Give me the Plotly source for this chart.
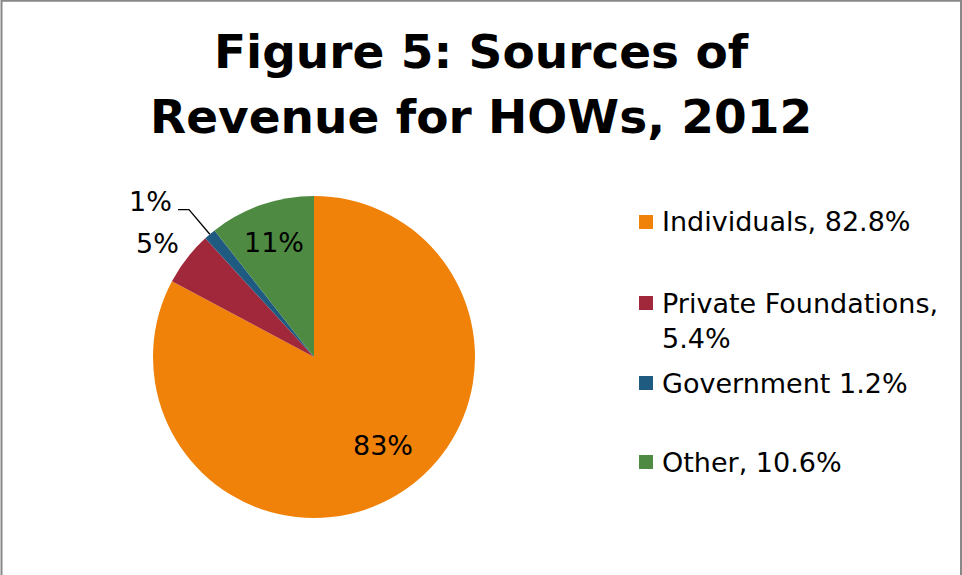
import math
import plotly.graph_objects as go

# Revenue sources for HOWs, 2012 (share of total, %)
categories = ["Individuals", "Private Foundations", "Government", "Other"]
shares = [82.8, 5.4, 1.2, 10.6]
legend_labels = ["Individuals, 82.8%", "Private Foundations,<br>5.4%",
                 "Government 1.2%", "Other, 10.6%"]
colors = ["#F0820A", "#A0283A", "#1F5A80", "#4E8A42"]

title_lines = ["Figure 5: Sources of", "Revenue for HOWs, 2012"]

W, H = 962, 575
FONT = "DejaVu Sans"
TXT = 27

# pie geometry in pixels
cx, cy, r = 314, 357, 161

def px(x):
    return x / W

def py(y):
    return 1 - y / H

fig = go.Figure(go.Pie(
    labels=categories,
    values=shares,
    marker=dict(colors=colors, line=dict(width=0)),
    sort=False,
    direction="clockwise",
    rotation=0,
    textinfo="none",
    hoverinfo="label+percent",
    showlegend=False,
    domain=dict(x=[px(cx - r), px(cx + r)], y=[py(cy + r), py(cy - r)]),
))

annotations = []
shapes = []

# title
for line, yc in zip(title_lines, [51, 116.5]):
    annotations.append(dict(
        text=f"<b>{line}</b>", x=0.5, y=py(yc), xref="paper", yref="paper",
        xanchor="center", yanchor="middle", showarrow=False,
        font=dict(family=FONT, size=47, color="black"),
    ))

# data labels placed along each slice's mid-angle
total = sum(shares)
label_radius = [0.70, 1.2, 1.2, 0.755]
label_nudge = [-7, -2, 0, 0]
cum = 0.0
for k, v in enumerate(shares):
    mid = (cum + v / 2) / total * 360.0
    cum += v
    text = f"{round(v)}%"
    if k == 2:
        # small slice: label outside with a leader line
        a = math.radians(mid)
        ex, ey = cx + r * math.sin(a), cy - r * math.cos(a)
        bx, by = cx + 1.2 * r * math.sin(a), cy - 1.2 * r * math.cos(a)
        hx = bx - 11
        shapes.append(dict(
            type="path", xref="paper", yref="paper",
            path=f"M {px(ex)} {py(ey)} L {px(bx)} {py(by)} L {px(hx)} {py(by)}",
            line=dict(color="black", width=1.3),
        ))
        annotations.append(dict(
            text=text, x=px(hx - 4), y=py(by - 8.5), xref="paper", yref="paper",
            xanchor="right", yanchor="middle", showarrow=False,
            font=dict(family=FONT, size=TXT, color="black"),
        ))
        continue
    a = math.radians(mid + label_nudge[k])
    lx = cx + label_radius[k] * r * math.sin(a)
    ly = cy - label_radius[k] * r * math.cos(a)
    annotations.append(dict(
        text=text, x=px(lx), y=py(ly), xref="paper", yref="paper",
        xanchor="center", yanchor="middle", showarrow=False,
        font=dict(family=FONT, size=TXT, color="black"),
    ))

# legend
row_y = [222, 303, 383, 462]
line_h = 1.3 * TXT
sq = 14
for lab, col, yr in zip(legend_labels, colors, row_y):
    shapes.append(dict(
        type="rect", xref="paper", yref="paper",
        x0=px(639), x1=px(639 + sq), y0=py(yr - sq / 2), y1=py(yr + sq / 2),
        fillcolor=col, line=dict(width=0),
    ))
    nlines = lab.count("<br>") + 1
    annotations.append(dict(
        text=lab, x=px(660), y=py(yr + (nlines - 1) * line_h / 2),
        xref="paper", yref="paper", xanchor="left", yanchor="middle",
        align="left", showarrow=False,
        font=dict(family=FONT, size=TXT, color="black"),
    ))

# chart frame
shapes.append(dict(
    type="rect", xref="paper", yref="paper",
    x0=px(1.5), x1=px(961), y0=py(H + 10), y1=py(0.8),
    line=dict(color="#888888", width=2), fillcolor="rgba(0,0,0,0)",
))

fig.update_layout(
    width=W, height=H, autosize=False,
    margin=dict(l=0, r=0, t=0, b=0),
    paper_bgcolor="white", plot_bgcolor="white",
    annotations=annotations, shapes=shapes,
    showlegend=False,
)

fig.write_html("out.html")
